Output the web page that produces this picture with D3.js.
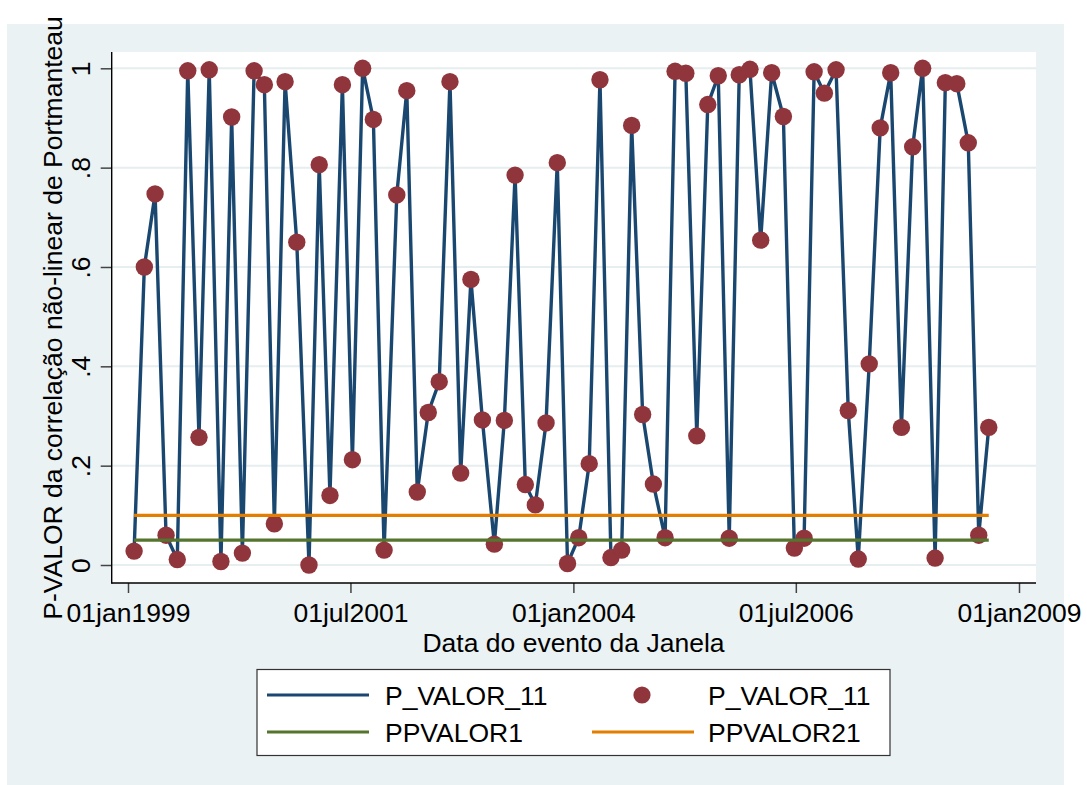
<!DOCTYPE html>
<html>
<head>
<meta charset="utf-8">
<script src="https://cdn.jsdelivr.net/npm/d3@7"></script>
<style>
  html, body { margin: 0; padding: 0; background: #ffffff; }
  svg { display: block; font-family: "Liberation Sans", Arial, sans-serif; }
</style>
</head>
<body>
<svg id="chart" width="1087" height="785"></svg>
<script>
// Event dates of each window
const eventDates = [
  "1999-01-26","1999-03-09","1999-04-22","1999-06-06","1999-07-22","1999-09-03","1999-10-19","1999-11-30",
  "2000-01-17","2000-03-01","2000-04-14","2000-06-01","2000-07-13","2000-08-23","2000-10-06","2000-11-23",
  "2001-01-12","2001-02-23","2001-04-08","2001-05-29","2001-07-09","2001-08-20","2001-10-03","2001-11-16",
  "2002-01-07","2002-02-17","2002-04-01","2002-05-16","2002-06-30","2002-08-13","2002-09-26","2002-11-07",
  "2002-12-24","2003-02-11","2003-03-24","2003-05-07","2003-06-18","2003-07-29","2003-09-11","2003-10-27",
  "2003-12-08","2004-01-23","2004-03-06","2004-04-19","2004-06-03","2004-07-17","2004-08-27","2004-10-11",
  "2004-11-24","2005-01-11","2005-02-21","2005-04-06","2005-05-21","2005-07-05","2005-08-17","2005-10-01",
  "2005-11-11","2005-12-25","2006-02-07","2006-03-24","2006-05-11","2006-06-25","2006-08-04","2006-09-14",
  "2006-10-26","2006-12-13","2007-02-01","2007-03-14","2007-04-28","2007-06-12","2007-07-25","2007-09-07",
  "2007-10-23","2007-12-03","2008-01-23","2008-03-05","2008-04-21","2008-06-07","2008-07-20","2008-08-30"
];

// P-value of the Portmanteau non-linear correlation test
const pValor11 = [
  0.028, 0.600, 0.747, 0.060, 0.011, 0.995, 0.257, 0.997,
  0.007, 0.902, 0.024, 0.995, 0.967, 0.083, 0.973, 0.650,
  0.000, 0.806, 0.140, 0.967, 0.212, 1.000, 0.897, 0.030,
  0.745, 0.955, 0.147, 0.307, 0.369, 0.973, 0.185, 0.575,
  0.292, 0.042, 0.291, 0.785, 0.162, 0.121, 0.286, 0.810,
  0.003, 0.055, 0.204, 0.977, 0.015, 0.030, 0.885, 0.303,
  0.163, 0.055, 0.994, 0.990, 0.260, 0.927, 0.985, 0.054,
  0.987, 0.998, 0.654, 0.991, 0.903, 0.034, 0.054, 0.993,
  0.950, 0.997, 0.311, 0.012, 0.405, 0.880, 0.991, 0.277,
  0.842, 1.000, 0.014, 0.971, 0.969, 0.850, 0.060, 0.277
];

// Significance thresholds
const ppValor1 = 0.05;
const ppValor21 = 0.10;

const yTicks = [0, 0.2, 0.4, 0.6, 0.8, 1];
const yTickLabels = ["0", ".2", ".4", ".6", ".8", "1"];
const xTickDates = ["1999-01-01", "2001-07-01", "2004-01-01", "2006-07-01", "2009-01-01"];
const xTickLabels = ["01jan1999", "01jul2001", "01jan2004", "01jul2006", "01jan2009"];

const legendItems = [
  { label: "P_VALOR_11", kind: "line", color: "#1a476f" },
  { label: "P_VALOR_11", kind: "dot", color: "#90353b" },
  { label: "PPVALOR1", kind: "line", color: "#55752f" },
  { label: "PPVALOR21", kind: "line", color: "#e37e00" }
];

const parse = d3.utcParse("%Y-%m-%d");
const data = eventDates.map((d, i) => ({ date: parse(d), value: pValor11[i] }));

const svg = d3.select("#chart");
const FONT = 26.5;

// graph region
svg.append("rect").attr("x", 7).attr("y", 24).attr("width", 1057).attr("height", 761)
  .attr("fill", "#eaf2f3");

const plot = { left: 111.7, right: 1036, top: 52, bottom: 583 };
svg.append("rect").attr("x", plot.left).attr("y", plot.top)
  .attr("width", plot.right - plot.left).attr("height", plot.bottom - plot.top)
  .attr("fill", "#ffffff");

const x = d3.scaleUtc()
  .domain([parse(xTickDates[0]), parse(xTickDates[xTickDates.length - 1])])
  .range([128, 1019]);
const y = d3.scaleLinear().domain([0, 1]).range([565, 68.3]);

// grid
svg.append("g").selectAll("line").data(yTicks).join("line")
  .attr("x1", plot.left).attr("x2", plot.right)
  .attr("y1", d => y(d)).attr("y2", d => y(d))
  .attr("stroke", "#e6eef0").attr("stroke-width", 2);

// axes
const yAxis = svg.append("g").attr("transform", `translate(${plot.left},0)`)
  .call(d3.axisLeft(y).tickValues(yTicks).tickFormat((d, i) => yTickLabels[i])
    .tickSize(11).tickSizeOuter(0));
yAxis.select(".domain").remove();
yAxis.selectAll(".tick line").attr("stroke", "#444").attr("stroke-width", 1.5);
yAxis.selectAll(".tick text")
  .attr("x", null).attr("dy", null)
  .attr("transform", "translate(-21.7,0) rotate(-90)")
  .attr("text-anchor", "middle")
  .attr("fill", "#000").style("font-size", FONT + "px")
  .style("font-family", "'Liberation Sans', Arial, sans-serif");

const xAxis = svg.append("g").attr("transform", `translate(0,${plot.bottom})`)
  .call(d3.axisBottom(x).tickValues(xTickDates.map(parse))
    .tickFormat((d, i) => xTickLabels[i]).tickSize(10).tickSizeOuter(0));
xAxis.select(".domain").remove();
xAxis.selectAll(".tick line").attr("stroke", "#444").attr("stroke-width", 1.5);
xAxis.selectAll(".tick text")
  .attr("y", 39).attr("dy", null)
  .attr("fill", "#000").style("font-size", FONT + "px")
  .style("font-family", "'Liberation Sans', Arial, sans-serif");

svg.append("line").attr("x1", plot.left).attr("x2", plot.left)
  .attr("y1", plot.top).attr("y2", plot.bottom + 0.7)
  .attr("stroke", "#000").attr("stroke-width", 1.4);
svg.append("line").attr("x1", plot.left).attr("x2", plot.right)
  .attr("y1", plot.bottom).attr("y2", plot.bottom)
  .attr("stroke", "#000").attr("stroke-width", 1.4);

// axis titles
svg.append("text")
  .attr("transform", "translate(62,318) rotate(-90)")
  .attr("text-anchor", "middle").style("font-size", FONT + "px")
  .text("P-VALOR da correlação não-linear de Portmanteau");
svg.append("text")
  .attr("x", 573.5).attr("y", 652)
  .attr("text-anchor", "middle").style("font-size", FONT + "px")
  .text("Data do evento da Janela");

// series
const line = d3.line().x(d => x(d.date)).y(d => y(d.value));
svg.append("path").datum(data)
  .attr("d", line).attr("fill", "none")
  .attr("stroke", "#1a476f").attr("stroke-width", 3.4)
  .attr("stroke-linejoin", "round");

svg.append("g").selectAll("circle").data(data).join("circle")
  .attr("cx", d => x(d.date)).attr("cy", d => y(d.value)).attr("r", 8.7)
  .attr("fill", "#90353b");

const span = d3.extent(data, d => d.date);
[[ppValor1, "#55752f"], [ppValor21, "#e37e00"]].forEach(([v, c]) => {
  svg.append("path")
    .datum(span.map(dt => ({ date: dt, value: v })))
    .attr("d", line).attr("fill", "none")
    .attr("stroke", c).attr("stroke-width", 3.2);
});

// legend
const lg = svg.append("g");
lg.append("rect").attr("x", 257).attr("y", 669.5).attr("width", 633).attr("height", 86)
  .attr("fill", "#ffffff").attr("stroke", "#333").attr("stroke-width", 1.2);
const colX = [267, 592];
const textX = [385, 708];
const rowY = [695, 732];
legendItems.forEach((it, i) => {
  const c = i % 2, r = Math.floor(i / 2);
  if (it.kind === "line") {
    lg.append("line").attr("x1", colX[c]).attr("x2", colX[c] + 102)
      .attr("y1", rowY[r]).attr("y2", rowY[r])
      .attr("stroke", it.color).attr("stroke-width", 2.8);
  } else {
    lg.append("circle").attr("cx", colX[c] + 50).attr("cy", rowY[r]).attr("r", 8.6)
      .attr("fill", it.color);
  }
  lg.append("text").attr("x", textX[c]).attr("y", rowY[r] + 10)
    .style("font-size", FONT + "px").text(it.label);
});
</script>
</body>
</html>
